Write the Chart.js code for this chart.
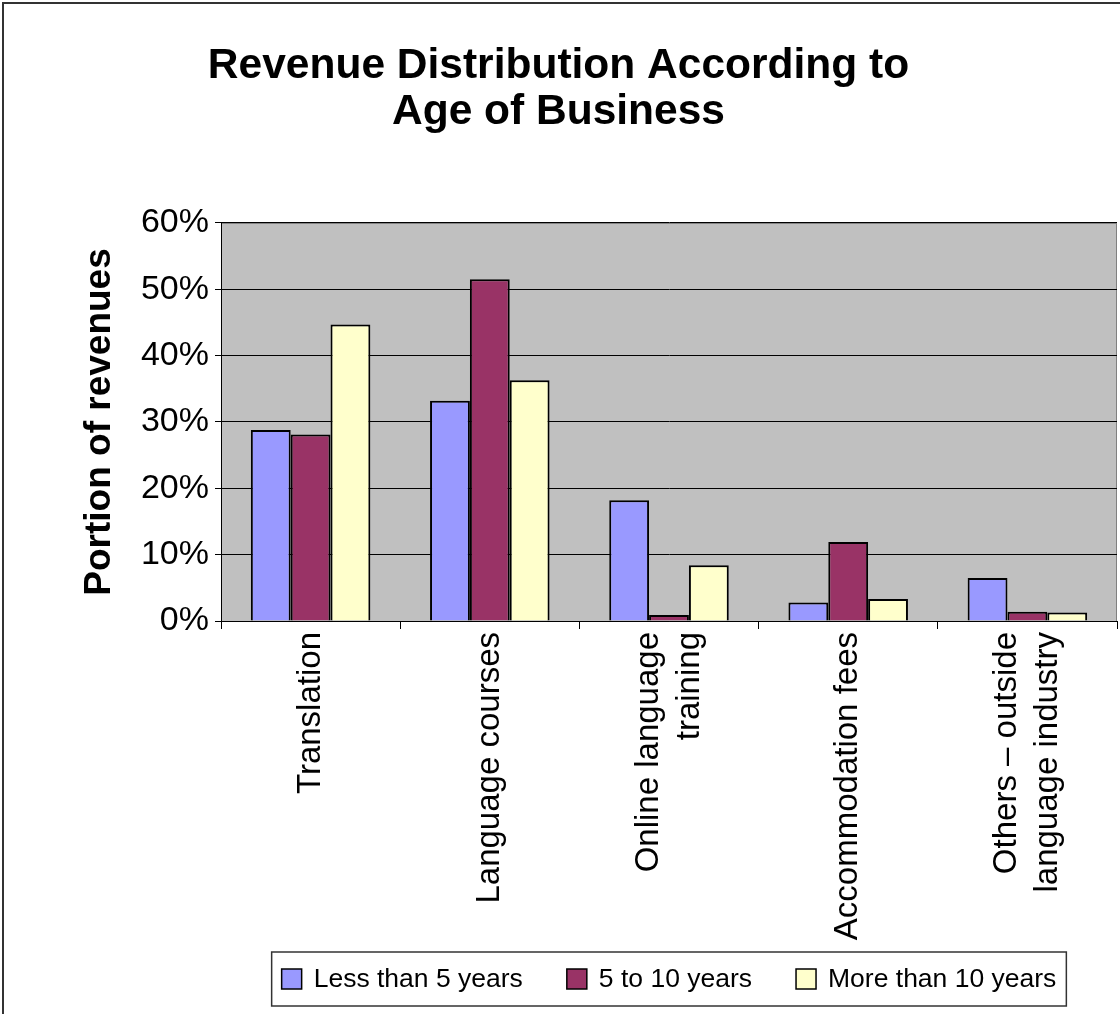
<!DOCTYPE html>
<html>
<head>
<meta charset="utf-8">
<title>Revenue Distribution According to Age of Business</title>
<script src="https://cdn.jsdelivr.net/npm/chart.js@4.4.1/dist/chart.umd.min.js"></script>
<style>
  html, body { margin: 0; padding: 0; background: #fff; overflow: hidden; }
  #wrap { width: 1120px; height: 1014px; }
</style>
</head>
<body>
<div id="wrap"><canvas id="revenueChart" width="1120" height="1014"></canvas></div>
<script>
/**
 * Revenue distribution by age of business - clustered bar chart
 */

const FONT = "'Liberation Sans', Arial, sans-serif";

// Data (percent of revenues)
const categories = [
    ['Translation'],
    ['Language courses'],
    ['Online language', 'training'],
    ['Accommodation fees'],
    ['Others – outside', 'language industry']
];
const seriesNames = ['Less than 5 years', '5 to 10 years', 'More than 10 years'];
const lessThan5 = [28.8, 33.2, 18.2, 2.8, 6.5];
const fiveTo10 = [28.1, 51.5, 0.9, 11.9, 1.4];
const moreThan10 = [44.7, 36.3, 8.4, 3.3, 1.3];
const yTicks = [0, 10, 20, 30, 40, 50, 60];

const seriesColors = ['#9999FF', '#993366', '#FFFFCC'];

// Grey plot area + outer chart frame
const plotBackground = {
    id: 'plotBackground',
    beforeDraw(chart) {
        const { ctx, chartArea: { left, top, right, bottom } } = chart;
        ctx.save();
        ctx.fillStyle = '#fff';
        ctx.fillRect(0, 0, chart.width, chart.height);
        ctx.fillStyle = '#C0C0C0';
        ctx.fillRect(left, top, right - left, bottom - top);
        ctx.strokeStyle = '#808080';
        ctx.lineWidth = 1;
        ctx.strokeRect(left + 0.5, top + 0.5, right - left - 1, bottom - top);
        ctx.strokeStyle = '#333';
        ctx.lineWidth = 2;
        ctx.strokeRect(3, 3, chart.width + 20, chart.height + 20);
        ctx.restore();
    }
};

// Rotated category labels, multi-line ones centred on the category
const categoryLabels = {
    id: 'categoryLabels',
    afterDraw(chart) {
        const { ctx, chartArea, scales: { x } } = chart;
        const lineHeight = 41;
        ctx.save();
        ctx.font = `33px ${FONT}`;
        ctx.fillStyle = '#000';
        ctx.textAlign = 'right';
        ctx.textBaseline = 'middle';
        chart.data.labels.forEach((lines, i) => {
            const cx = x.getPixelForValue(i);
            lines.forEach((line, j) => {
                ctx.save();
                ctx.translate(cx + (j - (lines.length - 1) / 2) * lineHeight, chartArea.bottom + 11);
                ctx.rotate(-Math.PI / 2);
                ctx.fillText(line, 0, 0);
                ctx.restore();
            });
        });
        ctx.restore();
    }
};

// Boxed legend under the plot area
const boxedLegend = {
    id: 'boxedLegend',
    afterDraw(chart) {
        const { ctx, chartArea } = chart;
        const box = 20, gap = 12, spacing = 44, padX = 10;
        const cy = chart.height - 35;
        ctx.save();
        ctx.font = `26.5px ${FONT}`;
        const items = chart.data.datasets.map(ds => ({
            ds,
            w: box + gap + ctx.measureText(ds.label).width
        }));
        const total = items.reduce((s, it) => s + it.w, 0) + spacing * (items.length - 1);
        let x = (chartArea.left + chartArea.right) / 2 - total / 2;

        ctx.strokeStyle = '#333';
        ctx.lineWidth = 1.5;
        ctx.strokeRect(x - padX, cy - 27, total + padX * 2, 54);

        ctx.textAlign = 'left';
        ctx.textBaseline = 'middle';
        items.forEach(it => {
            ctx.fillStyle = it.ds.backgroundColor;
            ctx.fillRect(x, cy - box / 2, box, box);
            ctx.strokeStyle = '#000';
            ctx.lineWidth = 1.5;
            ctx.strokeRect(x, cy - box / 2, box, box);
            ctx.fillStyle = '#000';
            ctx.fillText(it.ds.label, x + box + gap, cy + 1);
            x += it.w + spacing;
        });
        ctx.restore();
    }
};

const ctx = document.getElementById('revenueChart').getContext('2d');

new Chart(ctx, {
    type: 'bar',
    data: {
        labels: categories,
        datasets: [
            { label: seriesNames[0], data: lessThan5, backgroundColor: seriesColors[0] },
            { label: seriesNames[1], data: fiveTo10, backgroundColor: seriesColors[1] },
            { label: seriesNames[2], data: moreThan10, backgroundColor: seriesColors[2] }
        ]
    },
    options: {
        responsive: false,
        animation: false,
        layout: { padding: { top: 0, right: 3, bottom: 0, left: 0 } },
        datasets: {
            bar: {
                categoryPercentage: 0.667,
                barPercentage: 1,
                borderColor: '#000',
                borderWidth: 2
            }
        },
        plugins: {
            legend: { display: false },
            tooltip: { enabled: false },
            title: {
                display: true,
                text: ['Revenue Distribution According to', 'Age of Business'],
                color: '#000',
                font: { family: FONT, size: 42.5, weight: 'bold', lineHeight: 1.07 },
                padding: { top: 44, bottom: 88 }
            }
        },
        scales: {
            x: {
                grid: { offset: true, drawOnChartArea: false, color: '#000', tickLength: 8 },
                border: { color: '#000', width: 1 },
                ticks: { display: false },
                afterFit(scale) { scale.height = 393; }
            },
            y: {
                min: yTicks[0],
                max: yTicks[yTicks.length - 1],
                ticks: {
                    stepSize: yTicks[1] - yTicks[0],
                    callback: v => v + '%',
                    color: '#000',
                    font: { family: FONT, size: 34 },
                    padding: 6
                },
                grid: { color: '#000', tickLength: 6 },
                border: { color: '#000', width: 1 },
                title: {
                    display: true,
                    text: 'Portion of revenues',
                    color: '#000',
                    font: { family: FONT, size: 37, weight: 'bold' },
                    padding: { top: 78, bottom: 0 }
                },
                afterFit(scale) { scale.width = 221; }
            }
        }
    },
    plugins: [plotBackground, categoryLabels, boxedLegend]
});
</script>
</body>
</html>
